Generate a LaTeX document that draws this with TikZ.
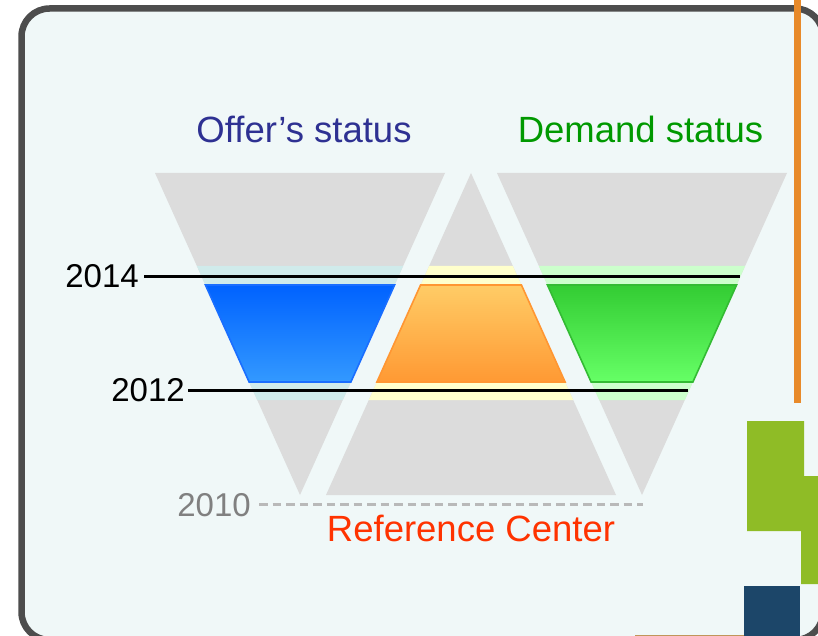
\documentclass[tikz,border=0pt]{standalone}
\usepackage{fontspec}
\setmainfont{Liberation Sans}
\usetikzlibrary{calc}
\definecolor{bgc}{RGB}{240,248,248}
\definecolor{framec}{RGB}{77,77,77}
\definecolor{trig}{RGB}{220,220,220}
\definecolor{bandc}{RGB}{208,235,235}
\definecolor{bandy}{RGB}{255,255,204}
\definecolor{bandg}{RGB}{204,255,204}
\definecolor{blueT}{RGB}{0,98,255}
\definecolor{blueB}{RGB}{51,153,255}
\definecolor{blueE}{RGB}{26,110,255}
\definecolor{orT}{RGB}{255,204,102}
\definecolor{orB}{RGB}{255,153,51}
\definecolor{orE}{RGB}{255,150,50}
\definecolor{grT}{RGB}{51,204,51}
\definecolor{grB}{RGB}{102,255,102}
\definecolor{grE}{RGB}{51,187,51}
\definecolor{offerc}{RGB}{46,49,146}
\definecolor{demandc}{RGB}{0,153,0}
\definecolor{refc}{RGB}{255,51,0}
\definecolor{yr10}{RGB}{128,128,128}
\definecolor{dashc}{RGB}{185,185,185}
\definecolor{orline}{RGB}{232,138,42}
\definecolor{blockg}{RGB}{143,188,38}
\definecolor{blockn}{RGB}{28,70,105}
\definecolor{tanl}{RGB}{192,150,90}
\begin{document}
\begin{tikzpicture}[x=1pt,y=-1pt,
  title/.style={inner sep=0pt,font=\fontsize{36.5pt}{40pt}\selectfont},
  year/.style={inner sep=0pt,font=\fontsize{33pt}{38pt}\selectfont},
  yearline/.style={line width=3pt,black},
  trap/.style={line width=1.6pt}]
\useasboundingbox (0,0) rectangle (818,636);
\fill[white] (0,0) rectangle (818,636);
% frame background
\fill[bgc,rounded corners=28pt] (21.5,8.5) rectangle (823,640);
% coordinates of triangles
\coordinate (L1) at (155,173); \coordinate (L2) at (445,173); \coordinate (L3) at (300,495);
\coordinate (M1) at (471,173); \coordinate (M2) at (616,495); \coordinate (M3) at (326,495);
\coordinate (R1) at (497,173); \coordinate (R2) at (787,173); \coordinate (R3) at (642,495);
% gray triangles
\fill[trig] (L1) -- (L2) -- (L3) -- cycle;
\fill[trig] (M1) -- (M2) -- (M3) -- cycle;
\fill[trig] (R1) -- (R2) -- (R3) -- cycle;
% light bands
\def\ba{0.2888}\def\bb{0.7050}
\def\ta{0.3478}\def\tb{0.6491}
\fill[bandc] ($(L1)!\ba!(L3)$) -- ($(L2)!\ba!(L3)$) -- ($(L2)!\bb!(L3)$) -- ($(L1)!\bb!(L3)$) -- cycle;
\fill[bandy] ($(M1)!\ba!(M3)$) -- ($(M1)!\ba!(M2)$) -- ($(M1)!\bb!(M2)$) -- ($(M1)!\bb!(M3)$) -- cycle;
\fill[bandg] ($(R1)!\ba!(R3)$) -- ($(R2)!\ba!(R3)$) -- ($(R2)!\bb!(R3)$) -- ($(R1)!\bb!(R3)$) -- cycle;
% coloured trapezoids
\path[trap,draw=blueE,top color=blueT,bottom color=blueB]
  ($(L1)!\ta!(L3)$) -- ($(L2)!\ta!(L3)$) -- ($(L2)!\tb!(L3)$) -- ($(L1)!\tb!(L3)$) -- cycle;
\path[trap,draw=orE,top color=orT,bottom color=orB]
  ($(M1)!\ta!(M3)$) -- ($(M1)!\ta!(M2)$) -- ($(M1)!\tb!(M2)$) -- ($(M1)!\tb!(M3)$) -- cycle;
\path[trap,draw=grE,top color=grT,bottom color=grB]
  ($(R1)!\ta!(R3)$) -- ($(R2)!\ta!(R3)$) -- ($(R2)!\tb!(R3)$) -- ($(R1)!\tb!(R3)$) -- cycle;
% titles
\node[title,text=offerc,anchor=base] (offer) at (304,143) {Offer’s status};
\node[title,text=demandc,anchor=base] (demand) at (640.5,143) {Demand status};
\node[title,text=refc,anchor=base] (ref) at (471,541) {Reference Center};
% years
\node[year,anchor=base east] (y2014) at (139,287) {2014};
\node[year,anchor=base east] (y2012) at (185,401) {2012};
\node[year,text=yr10,anchor=base east] (y2010) at (251,516) {2010};
\coordinate (e2014) at (740,276);
\coordinate (e2012) at (688,390);
\coordinate (e2010) at (643,504);
\draw[yearline] ([xshift=5pt]y2014.east |- e2014) -- (e2014);
\draw[yearline] ([xshift=3pt]y2012.east |- e2012) -- (e2012);
\draw[dashc,line width=3pt,dash pattern=on 8.5pt off 5pt] ([xshift=8pt]y2010.east |- e2010) -- (e2010);
% frame border
\draw[framec,line width=6.5pt,rounded corners=28pt] (21.5,8.5) rectangle (823,640);
% decorations on the right
\fill[orline] (794,0) rectangle (801,403);
\fill[blockg] (747,421) -- (804,421) -- (804,476) -- (818,476) -- (818,584) -- (801,584) -- (801,531) -- (747,531) -- cycle;
\fill[blockn] (744,586) rectangle (800,636);
\draw[tanl,line width=1.5pt] (635,635.25) -- (744,635.25);
\end{tikzpicture}
\end{document}
